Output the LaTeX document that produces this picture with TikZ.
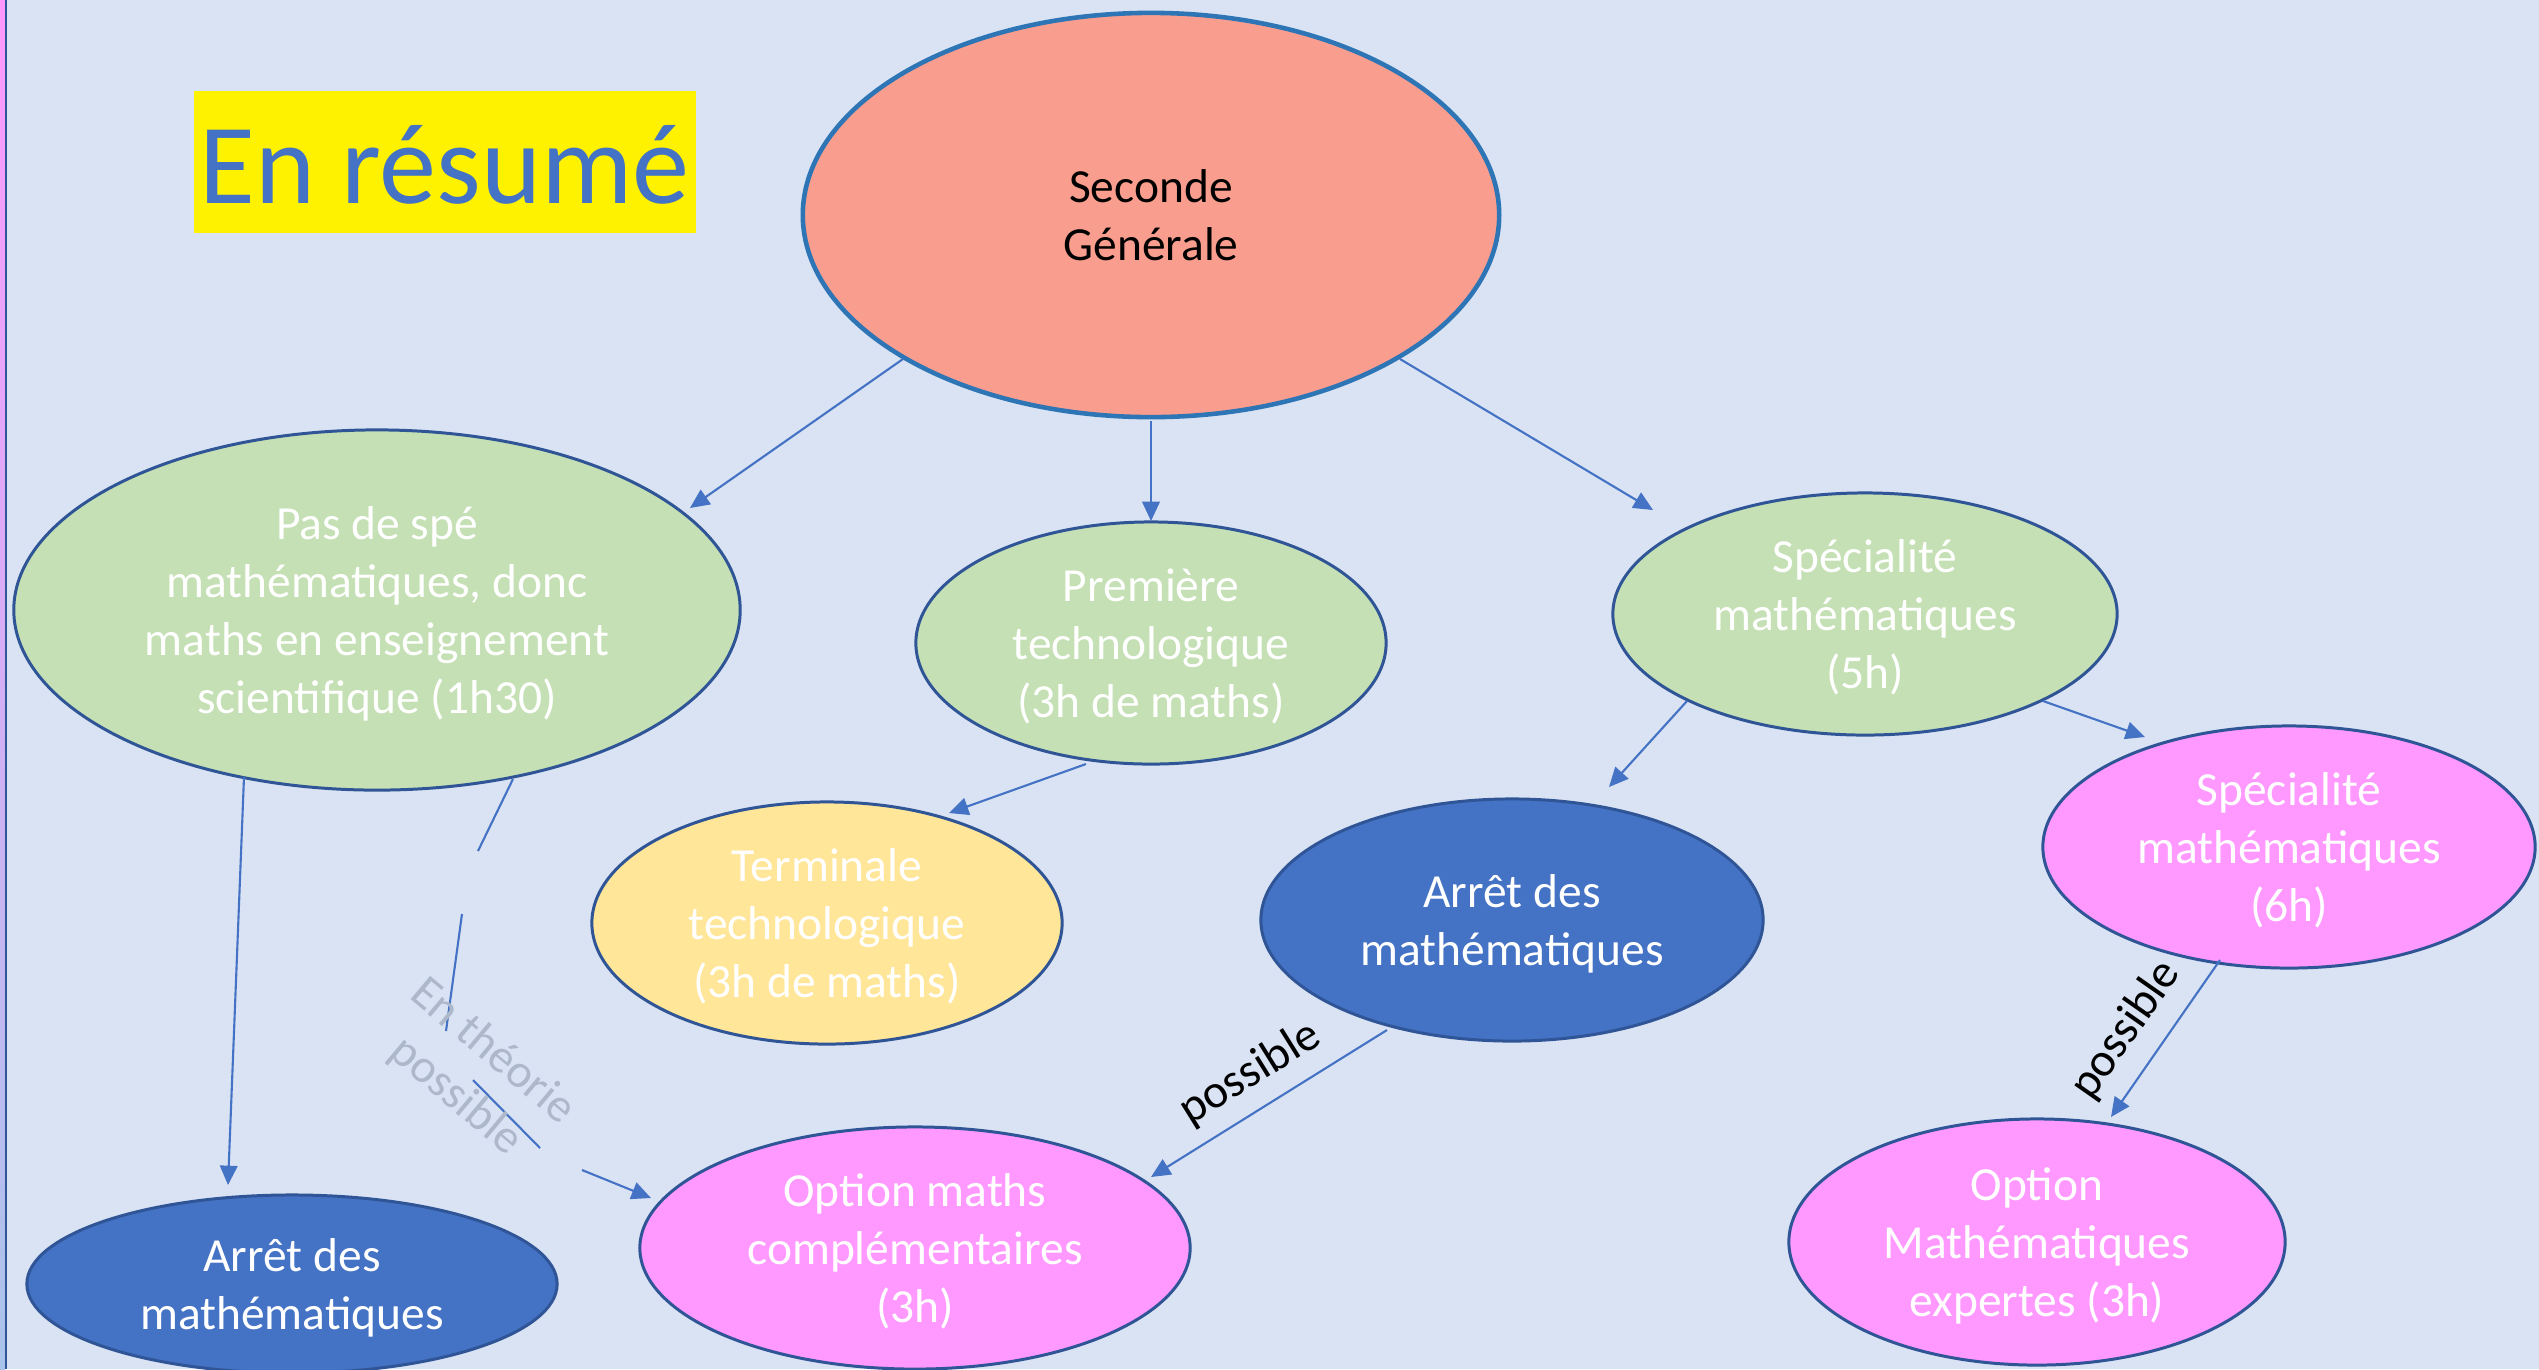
\documentclass[tikz,border=0pt]{standalone}
\usepackage{fontspec}
\setmainfont{Carlito}
\usetikzlibrary{shapes.geometric,arrows.meta}
\definecolor{bg}{HTML}{DAE3F3}
\definecolor{salmon}{HTML}{F99E8F}
\definecolor{sbord}{HTML}{2E75B6}
\definecolor{dbord}{HTML}{2F5597}
\definecolor{green}{HTML}{C5E0B4}
\definecolor{yel}{HTML}{FFE699}
\definecolor{blu}{HTML}{4472C4}
\definecolor{pink}{HTML}{FF99FF}
\definecolor{gry}{HTML}{ADB9CA}
\definecolor{strip}{HTML}{A9C4EB}
\begin{document}
\begin{tikzpicture}[x=0.01cm,y=-0.01cm,
  ell/.style={ellipse,draw=dbord,line width=0.85pt,inner sep=0pt,align=center,text=white,
    text depth=0pt,font=\fontsize{13.5}{16.4}\selectfont},
  arr/.style={draw=blu,line width=0.6pt,-{Triangle[length=5.5pt,width=5pt]}},
  seg/.style={draw=blu,line width=0.6pt},
  lbl/.style={font=\fontsize{13.5}{16.4}\selectfont,inner sep=0pt}]
\useasboundingbox (0,0) rectangle (2539,1369);
\fill[bg] (0,0) rectangle (2539,1369);
\shade[top color=pink,bottom color=strip] (0,0) rectangle (5,1369);
\fill[dbord] (5,0) rectangle (7,1369);
% title
\fill[yellow] (194,91) rectangle (696,233);
\node[anchor=west,inner sep=0pt,text=blu,font=\fontsize{32.5}{39}\selectfont] (title) at (199,165) {En résumé};
% nodes
\node[ell,fill=salmon,draw=sbord,line width=1.3pt,text=black,minimum width=6.96cm,minimum height=4.04cm] (S) at (1151,215) {Seconde\\Générale};
\node[ell,fill=green,minimum width=7.26cm,minimum height=3.60cm] (P) at (377,610) {Pas de spé\\mathématiques, donc\\maths en enseignement\\scientifique (1h30)};
\node[ell,fill=green,minimum width=4.70cm,minimum height=2.42cm] (Q) at (1151,643) {Première\\technologique\\(3h de maths)};
\node[ell,fill=green,minimum width=5.04cm,minimum height=2.42cm] (R) at (1865,614) {Spécialité\\mathématiques\\(5h)};
\node[ell,fill=yel,minimum width=4.70cm,minimum height=2.42cm] (T) at (827,923) {Terminale\\technologique\\(3h de maths)};
\node[ell,fill=blu,minimum width=5.02cm,minimum height=2.42cm] (A) at (1512,920) {Arrêt des\\mathématiques};
\node[ell,fill=pink,minimum width=4.92cm,minimum height=2.42cm] (U) at (2289,847) {Spécialité\\mathématiques\\(6h)};
\node[ell,fill=blu,minimum width=5.30cm,minimum height=1.78cm] (B) at (292,1284) {Arrêt des\\mathématiques};
\node[ell,fill=pink,minimum width=5.50cm,minimum height=2.42cm] (O) at (915,1248) {Option maths\\complémentaires\\(3h)};
\node[ell,fill=pink,minimum width=4.96cm,minimum height=2.46cm] (E) at (2037,1242) {Option\\Mathématiques\\expertes (3h)};
% connectors
\draw[arr] ([shift={(-248,144)}]S.center) -- ([shift={(313,-102)}]P.center);
\draw[arr] ([shift={(0,206)}]S.center) -- ([shift={(0,-122)}]Q.center);
\draw[arr] ([shift={(249,144)}]S.center) -- ([shift={(-212,-104)}]R.center);
\draw[arr] ([shift={(-65,121)}]Q.center) -- ([shift={(122,-110)}]T.center);
\draw[arr] ([shift={(-178,87)}]R.center) -- ([shift={(97,-133)}]A.center);
\draw[arr] ([shift={(178,87)}]R.center) -- ([shift={(-144,-110)}]U.center);
\draw[arr] ([shift={(-133,167)}]P.center) -- ([shift={(-64,-99)}]B.center);
\draw[arr] ([shift={(-125,110)}]A.center) -- node[lbl,sloped,above=4pt] (l1) {possible} ([shift={(236,-71)}]O.center);
\draw[arr] ([shift={(-69,113)}]U.center) -- ([shift={(74,-125)}]E.center);
\node[lbl,rotate=55] (l2) at (2126,1030) {possible};
% broken connector
\coordinate (c1) at ([shift={(136,169)}]P.center);
\coordinate (c2) at (478,851);
\coordinate (c3) at (462,914);
\coordinate (c4) at (446,1031);
\coordinate (c5) at (473,1080);
\coordinate (c6) at (540,1148);
\coordinate (c7) at (582,1170);
\draw[seg] (c1) -- (c2);
\draw[seg] (c3) -- (c4);
\draw[seg] (c5) -- (c6);
\draw[arr] (c7) -- ([shift={(-264,-50)}]O.center);
\node[lbl,text=gry,rotate=-40,align=center] (l3) at (474,1074) {En théorie\\possible};
\end{tikzpicture}
\end{document}
